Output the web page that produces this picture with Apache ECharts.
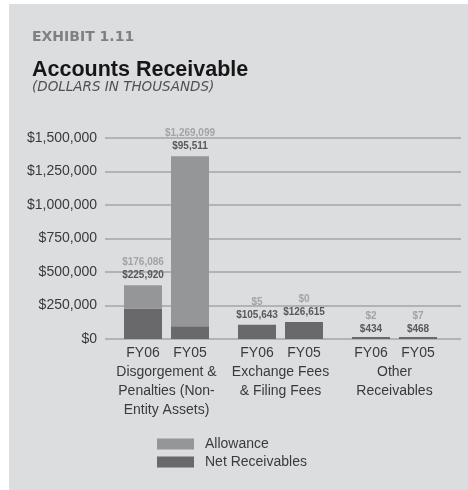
<!DOCTYPE html>
<html>
<head>
<meta charset="utf-8">
<script src="https://cdn.jsdelivr.net/npm/echarts@6/dist/echarts.min.js"></script>
<style>
  html, body { margin: 0; padding: 0; background: #fff; }
  #chart { width: 468px; height: 490px; }
</style>
</head>
<body>
<div id="chart"></div>
<script>
// data
const categories = ['Disgorgement &\nPenalties (Non-\nEntity Assets)', 'Exchange Fees\n& Filing Fees', 'Other\nReceivables']
const years = ['FY06', 'FY05']
const netFY06 = [225920, 105643, 434]
const allowFY06 = [176086, 5, 2]
const netFY05 = [95511, 126615, 468]
const allowFY05 = [1269099, 0, 7]
const yMin = 0
const yMax = 1500000
const yStep = 250000

const money = v => '$' + v.toLocaleString('en-US')

const C_ALLOW = '#959698'
const C_NET = '#69696b'
const C_TEXT = '#3a3a3a'
const C_GRID = '#a3a4a6'

const topLabel = (allow, net) => ({
  show: true,
  position: 'top',
  distance: 3,
  formatter: p => '{a|' + money(allow[p.dataIndex]) + '}\n{b|' + money(net[p.dataIndex]) + '}',
  rich: {
    a: { fontSize: 10, fontWeight: 'bold', color: '#a2a3a5', lineHeight: 13, align: 'center' },
    b: { fontSize: 10, fontWeight: 'bold', color: '#58595b', lineHeight: 13, align: 'center' }
  }
})

const chart = echarts.init(document.getElementById('chart'))

chart.setOption({
  animation: false,
  textStyle: { fontFamily: '"Liberation Sans", Arial, sans-serif' },
  graphic: [
    { type: 'rect', z: -100, shape: { x: 9, y: 4, width: 459, height: 486 }, style: { fill: '#dcdddf' } },
    { type: 'text', x: 32, y: 37, style: { text: 'EXHIBIT 1.11', font: 'bold 14px "DejaVu Sans"', fill: '#7f8082', verticalAlign: 'middle', textVerticalAlign: 'middle' } },
    { type: 'text', x: 32, y: 70, style: { text: 'Accounts Receivable', font: 'bold 21.5px "Liberation Sans"', fill: '#161616', verticalAlign: 'middle', textVerticalAlign: 'middle' } },
    { type: 'text', x: 32, y: 87, style: { text: '(DOLLARS IN THOUSANDS)', font: 'oblique 13.5px "DejaVu Sans"', fill: '#505050', verticalAlign: 'middle', textVerticalAlign: 'middle' } }
  ],
  grid: [
    { left: 105, right: 7, top: 138, bottom: 151 },
    { left: 109.5, width: 342, top: 138, bottom: 151 }
  ],
  xAxis: [
    { type: 'category', gridIndex: 0, data: categories, show: false },
    {
      type: 'category', gridIndex: 1, data: categories,
      axisLine: { show: false }, axisTick: { show: false },
      axisLabel: {
        margin: 5, fontSize: 14, lineHeight: 19, color: C_TEXT, align: 'center', interval: 0,
        formatter: v => '{f|' + years[0] + '}{f|' + years[1] + '}\n' + v,
        rich: { f: { width: 47, align: 'center', fontSize: 14, lineHeight: 19, color: C_TEXT } }
      }
    }
  ],
  yAxis: [
    {
      type: 'value', gridIndex: 0, min: yMin, max: yMax, interval: yStep,
      axisLine: { show: false }, axisTick: { show: false },
      axisLabel: { margin: 8, fontSize: 14, color: C_TEXT, formatter: v => money(v) },
      splitLine: { lineStyle: { color: C_GRID, width: 1.5 } }
    },
    { type: 'value', gridIndex: 1, min: yMin, max: yMax, interval: yStep, show: false, splitLine: { show: false } }
  ],
  legend: {
    orient: 'vertical', left: 152, top: 432,
    itemWidth: 37, itemHeight: 11, itemGap: 4, icon: 'rect',
    data: ['Allowance', 'Net Receivables'],
    textStyle: { fontSize: 14, color: C_TEXT, padding: [0, 0, 0, 6] }
  },
  series: [
    { name: 'Net Receivables', type: 'bar', xAxisIndex: 1, yAxisIndex: 1, stack: 'fy06', data: netFY06,
      barWidth: 38, barGap: '23.7%', barMinHeight: 2, itemStyle: { color: C_NET } },
    { name: 'Allowance', type: 'bar', xAxisIndex: 1, yAxisIndex: 1, stack: 'fy06', data: allowFY06,
      barWidth: 38, itemStyle: { color: C_ALLOW }, label: topLabel(allowFY06, netFY06) },
    { name: 'Net Receivables', type: 'bar', xAxisIndex: 1, yAxisIndex: 1, stack: 'fy05', data: netFY05,
      barWidth: 38, barGap: '23.7%', barMinHeight: 2, itemStyle: { color: C_NET } },
    { name: 'Allowance', type: 'bar', xAxisIndex: 1, yAxisIndex: 1, stack: 'fy05', data: allowFY05,
      barWidth: 38, itemStyle: { color: C_ALLOW }, label: topLabel(allowFY05, netFY05) }
  ]
})
</script>
</body>
</html>
